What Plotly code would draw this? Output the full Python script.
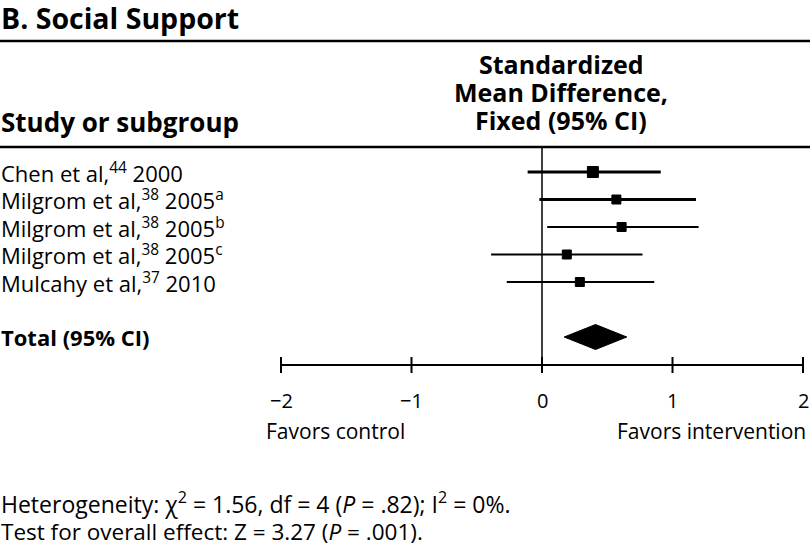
import plotly.graph_objects as go

# ---- data ----
studies = ["Chen et al,<sup>44</sup> 2000",
           "Milgrom et al,<sup>38</sup> 2005<sup>a</sup>",
           "Milgrom et al,<sup>38</sup> 2005<sup>b</sup>",
           "Milgrom et al,<sup>38</sup> 2005<sup>c</sup>",
           "Mulcahy et al,<sup>37</sup> 2010"]
smd = [0.39, 0.57, 0.61, 0.19, 0.29]
ci_low = [-0.11, -0.02, 0.04, -0.39, -0.27]
ci_high = [0.91, 1.18, 1.20, 0.77, 0.86]
total_smd = 0.41
total_low = 0.17
total_high = 0.65
tick_vals = [-2, -1, 0, 1, 2]
tick_labels = ["\u22122", "\u22121", "0", "1", "2"]

# ---- styling / layout ----
W, H = 810, 548
FONT = "Open Sans"
px_per_unit = 130.5
x_left_px = 281
x0 = -2 - x_left_px / px_per_unit
x1 = x0 + W / px_per_unit
row0_px, row_gap = 172, 27.5
def row_of(p):
    return (p - row0_px) / row_gap
y_top, y_bot = row_of(0), row_of(H)
def py(p):  # pixel -> paper
    return 1 - p / H

thick = [3, 3, 2, 2, 2]
msize = [11, 9, 9, 9, 9]

fig = go.Figure()
for i in range(len(studies)):
    fig.add_trace(go.Scatter(x=[ci_low[i], ci_high[i]], y=[i, i], mode="lines",
                             line=dict(color="black", width=thick[i]),
                             hoverinfo="skip", showlegend=False))
fig.add_trace(go.Scatter(x=smd, y=list(range(len(smd))), mode="markers",
                         marker=dict(symbol="square", size=msize, color="#000000",
                                     opacity=1, line=dict(width=1, color="#000000")),
                         showlegend=False))
total_row = 6
h = 12.5 / row_gap
fig.add_trace(go.Scatter(x=[total_low, total_smd, total_high, total_smd, total_low],
                         y=[total_row, total_row - h, total_row, total_row + h, total_row],
                         mode="lines", fill="toself", fillcolor="black",
                         line=dict(color="black", width=1), showlegend=False))

axis_row = row_of(365)
shapes = []
shapes.append(dict(type="line", x0=0, x1=0, y0=row_of(147), y1=row_of(373),
                   xref="x", yref="y", line=dict(color="black", width=1.5)))
shapes.append(dict(type="line", x0=tick_vals[0], x1=tick_vals[-1], y0=axis_row, y1=axis_row,
                   xref="x", yref="y", line=dict(color="black", width=2)))
for t in tick_vals:
    shapes.append(dict(type="line", x0=t, x1=t, y0=row_of(357), y1=row_of(373),
                       xref="x", yref="y", line=dict(color="black", width=2)))
for p in [41, 147]:
    shapes.append(dict(type="line", x0=0, x1=1, y0=py(p), y1=py(p),
                       xref="paper", yref="paper", line=dict(color="black", width=2.5)))

ann = []
def text(t, x, y, size=18, bold=False, xanchor="left", xref="paper", yref="paper"):
    if bold:
        t = "<b>" + t + "</b>"
    ann.append(dict(text=t, x=x, y=y, xref=xref, yref=yref, xanchor=xanchor,
                    yanchor="middle", showarrow=False, borderpad=0,
                    font=dict(family=FONT, size=size, color="black")))

text("B. Social Support", 0, py(18.5), size=28.5, bold=True)
text("Study or subgroup", 0, py(122), size=26, bold=True)
hx = 561 / W
text("Standardized", hx, py(64), size=25, bold=True, xanchor="center")
text("Mean Difference,", hx, py(92), size=25, bold=True, xanchor="center")
text("Fixed (95% CI)", hx, py(120), size=25, bold=True, xanchor="center")
for i, s in enumerate(studies):
    text(s, 0, i, size=22, yref="y")
text("Total (95% CI)", 0, total_row, size=22, bold=True, yref="y")
for t, lab in zip(tick_vals, tick_labels):
    text(lab, t, row_of(400), size=20, xanchor="center", xref="x", yref="y")
text("Favors control", 265 / W, py(431), size=21)
text("Favors intervention", 807 / W, py(431), size=21, xanchor="right")
text("Heterogeneity: \u03c7<sup>2</sup> = 1.56, df = 4 (<i>P</i> = .82); I<sup>2</sup> = 0%.",
     0, py(503), size=23)
text("Test for overall effect: Z = 3.27 (<i>P</i> = .001).", 0, py(531), size=22.5)

fig.update_layout(
    width=W, height=H, margin=dict(l=0, r=0, t=0, b=0),
    paper_bgcolor="white", plot_bgcolor="white",
    xaxis=dict(range=[x0, x1], visible=False, fixedrange=True),
    yaxis=dict(range=[y_bot, y_top], visible=False, fixedrange=True),
    shapes=shapes, annotations=ann, showlegend=False,
)
fig.write_html("out.html", config={"displayModeBar": False},
               post_script="document.body.style.margin='0';document.body.style.overflow='hidden';")
